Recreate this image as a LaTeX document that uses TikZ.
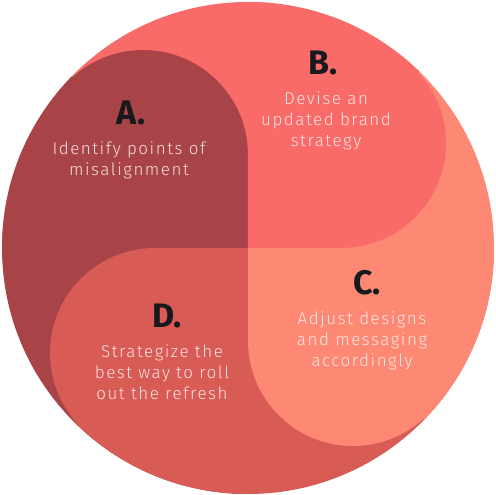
\documentclass[tikz,border=0pt]{standalone}
\usepackage{fontspec}
\setmainfont{Fira Sans}
\newfontfamily\bodyfont{Fira Sans}[UprightFont=* Light, LetterSpace=9]
\usepackage{tikz}
\usetikzlibrary{positioning}
\usepackage{xcolor}
\definecolor{petalA}{HTML}{A84448}
\definecolor{petalB}{HTML}{F96B68}
\definecolor{petalC}{HTML}{FD8974}
\definecolor{petalD}{HTML}{D85B55}
\definecolor{headink}{HTML}{17191E}
\definecolor{bodyink}{HTML}{FFF1EF}
\tikzset{
  head/.style = {font=\fontsize{34}{34}\selectfont\bfseries, text=headink, inner sep=0pt, anchor=base},
  body/.style = {font=\bodyfont\fontsize{17}{21}\selectfont, text=bodyink, text opacity=0.9,
    align=center, inner sep=0pt},
  petal/.style = {draw=none}
}

\begin{document}
\begin{tikzpicture}[x=1pt, y=1pt, node distance=16pt]

\useasboundingbox (-248,-247) rectangle (247,248);

\begin{scope}
\clip (0,0) circle (246);
% outer part of each quadrant belongs to the next petal
\fill[petalB] (-250,0) rectangle (0,250);
\fill[petalC] (0,0) rectangle (250,250);
\fill[petalD] (0,0) rectangle (250,-250);
\fill[petalA] (-250,0) rectangle (0,-250);
% the four rounded petals
\fill[petal, petalA] (0,0) -- (0,93) arc[start angle=0, end angle=132, radius=105]
  -- (-260,171) -- (-260,0) -- cycle;
\fill[petal, petalB] (0,0) -- (93,0) arc[start angle=-90, end angle=42, radius=105]
  -- (171,260) -- (0,260) -- cycle;
\fill[petal, petalC] (0,0) -- (0,-93) arc[start angle=180, end angle=312, radius=105]
  -- (260,-171) -- (260,0) -- cycle;
\fill[petal, petalD] (0,0) -- (-93,0) arc[start angle=90, end angle=222, radius=105]
  -- (-171,-260) -- (0,-260) -- cycle;
\end{scope}

% labels
\node[head] (hA) at (-117,123) {A.};
\node[body, below=of hA, xshift=-2pt] (tA) {Identify points of\\misalignment};

\node[head] (hB) at (75,173) {B.};
\node[body, below=of hB, xshift=3pt] (tB) {Devise an\\updated brand\\strategy};

\node[head] (hC) at (119,-47) {C.};
\node[body, below=of hC, xshift=-5pt] (tC) {Adjust designs\\and messaging\\accordingly};

\node[head] (hD) at (-81,-80) {D.};
\node[body, below=of hD, xshift=-5pt] (tD) {Strategize the\\best way to roll\\out the refresh};

\end{tikzpicture}
\end{document}
